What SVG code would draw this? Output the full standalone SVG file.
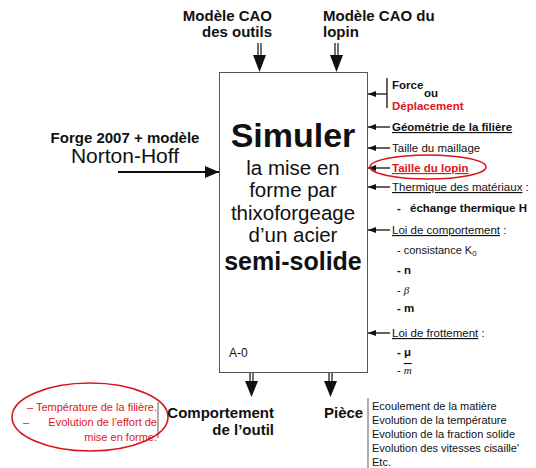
<svg xmlns="http://www.w3.org/2000/svg" width="536" height="468" viewBox="0 0 536 468">
  <style>
    text { font-family: "Liberation Sans", Arial, sans-serif; fill: #111; }
    .b { font-weight: bold; }
    .red { fill: #e0141c; }
    .box { fill: #fff; stroke: #555; stroke-width: 1; }
    .stem { stroke: #111; stroke-width: 1.2; fill: none; }
    .line { stroke: #111; stroke-width: 1.3; fill: none; }
    .thin { stroke: #333; stroke-width: 0.8; fill: none; }
    .oval { fill: none; stroke: #d8141c; stroke-width: 1.6; }
    .s11 { font-size: 11px; }
    .s115 { font-size: 11.5px; }
  </style>
  <defs>
    <marker id="small" viewBox="0 0 8 6" refX="8" refY="3" markerWidth="8" markerHeight="6" markerUnits="userSpaceOnUse" orient="auto">
      <path d="M0,0 L8,3 L0,6 Z" fill="#111"/>
    </marker>
    <marker id="big" viewBox="0 0 14 12" refX="14" refY="6" markerWidth="14" markerHeight="12" markerUnits="userSpaceOnUse" orient="auto">
      <path d="M0,0 L14,6 L0,12 Z" fill="#111"/>
    </marker>
  </defs>

  <!-- Activity box A-0 -->
  <g id="activity">
    <rect class="box" x="219.5" y="72.5" width="148" height="300"/>
    <text class="b" x="293" y="147" font-size="34" text-anchor="middle">Simuler</text>
    <text x="293" y="175" font-size="20.5" text-anchor="middle">la mise en</text>
    <text x="293" y="197" font-size="20.5" text-anchor="middle">forme par</text>
    <text x="293" y="220" font-size="20.5" text-anchor="middle">thixoforgeage</text>
    <text x="293" y="242" font-size="20.5" text-anchor="middle">d’un acier</text>
    <text class="b" x="293" y="270" font-size="25" text-anchor="middle">semi-solide</text>
    <text x="229" y="357" font-size="12">A-0</text>
  </g>

  <!-- Connectors -->
  <g id="connectors">
    <!-- top inputs (double-stem arrows) -->
    <line class="stem" x1="258" y1="43" x2="258" y2="56"/>
    <line class="stem" x1="261" y1="43" x2="261" y2="56"/>
    <path d="M253,55 L266,55 L259.5,72 Z" fill="#111"/>
    <line class="stem" x1="335" y1="43" x2="335" y2="56"/>
    <line class="stem" x1="338" y1="43" x2="338" y2="56"/>
    <path d="M330,55 L343,55 L336.5,72 Z" fill="#111"/>
    <!-- bottom outputs -->
    <line class="stem" x1="250" y1="373" x2="250" y2="382"/>
    <line class="stem" x1="253" y1="373" x2="253" y2="382"/>
    <path d="M245,381 L258,381 L251.5,397 Z" fill="#111"/>
    <line class="stem" x1="329" y1="373" x2="329" y2="382"/>
    <line class="stem" x1="332" y1="373" x2="332" y2="382"/>
    <path d="M324,381 L337,381 L330.5,397 Z" fill="#111"/>
    <!-- left input -->
    <line x1="118" y1="172" x2="219" y2="172" stroke="#111" stroke-width="2.2" marker-end="url(#big)"/>
    <!-- right-side controls -->
    <line class="line" x1="387" y1="78" x2="387" y2="108"/>
    <line class="line" x1="387" y1="94" x2="368" y2="94" marker-end="url(#small)"/>
    <line class="line" x1="390" y1="127" x2="368" y2="127" marker-end="url(#small)"/>
    <line class="line" x1="390" y1="148" x2="368" y2="148" marker-end="url(#small)"/>
    <line class="line" x1="390" y1="168" x2="368" y2="168" marker-end="url(#small)"/>
    <line class="line" x1="390" y1="187" x2="368" y2="187" marker-end="url(#small)"/>
    <line class="line" x1="390" y1="230" x2="368" y2="230" marker-end="url(#small)"/>
    <line class="line" x1="390" y1="333" x2="368" y2="333" marker-end="url(#small)"/>
  </g>

  <!-- Top inputs labels -->
  <g id="cao-outils">
    <text class="b" x="272" y="21" font-size="15" text-anchor="end">Modèle CAO</text>
    <text class="b" x="272" y="37" font-size="15" text-anchor="end">des outils</text>
  </g>
  <g id="cao-lopin">
    <text class="b" x="323" y="21" font-size="15">Modèle CAO du</text>
    <text class="b" x="323" y="37" font-size="15">lopin</text>
  </g>

  <!-- Left input label -->
  <g id="forge">
    <text class="b" x="125" y="143" font-size="15" text-anchor="middle">Forge 2007 + modèle</text>
    <text x="125" y="163" font-size="21" text-anchor="middle">Norton-Hoff</text>
  </g>

  <!-- Right-side controls labels -->
  <g id="force">
    <text class="b s115" x="392" y="89">Force</text>
    <text class="b s115" x="424" y="97">ou</text>
    <text class="b s115 red" x="392" y="110">Déplacement</text>
  </g>
  <g id="geometrie">
    <text class="b s115" x="392" y="131" text-decoration="underline">Géométrie de la filière</text>
  </g>
  <g id="maillage">
    <text class="s115" x="392" y="152">Taille du maillage</text>
  </g>
  <g id="lopin">
    <text class="b s115 red" x="392" y="172" text-decoration="underline">Taille du lopin</text>
    <ellipse class="oval" cx="428" cy="167" rx="58" ry="12"/>
  </g>
  <g id="thermique">
    <text class="s115" x="392" y="191"><tspan text-decoration="underline">Thermique des matériaux</tspan> :</text>
    <text class="b s115" x="397" y="212">-</text>
    <text class="b s115" x="410" y="212">échange thermique H</text>
  </g>
  <g id="comportement">
    <text class="s115" x="392" y="234"><tspan text-decoration="underline">Loi de comportement</tspan> :</text>
    <text class="s11" x="397" y="254">- consistance K<tspan font-size="8" dy="2">0</tspan></text>
    <text class="b s115" x="397" y="274">- n</text>
    <text class="s11" x="397" y="294">- <tspan font-family="Liberation Serif, serif" font-style="italic">β</tspan></text>
    <text class="b s115" x="397" y="312">- m</text>
  </g>
  <g id="frottement">
    <text class="s115" x="392" y="337"><tspan text-decoration="underline">Loi de frottement</tspan> :</text>
    <text class="b s115" x="397" y="356">- μ</text>
    <text class="s11" x="397" y="374">- <tspan font-family="Liberation Serif, serif" font-style="italic" text-decoration="overline">m</tspan></text>
  </g>

  <!-- Bottom outputs -->
  <g id="outil">
    <line class="thin" x1="158" y1="402" x2="158" y2="438"/>
    <text class="red s11" x="157" y="411" text-anchor="end">– Température de la filière.</text>
    <text class="red s11" x="23" y="426">–</text>
    <text class="red s11" x="157" y="426" text-anchor="end">Evolution de l’effort de</text>
    <text class="red s11" x="157" y="441" text-anchor="end">mise en forme.</text>
    <ellipse class="oval" cx="90" cy="417" rx="78" ry="34"/>
    <text class="b" x="274" y="418" font-size="15" text-anchor="end">Comportement</text>
    <text class="b" x="274" y="435" font-size="15" text-anchor="end">de l’outil</text>
  </g>
  <g id="piece">
    <text class="b" x="324" y="418" font-size="15">Pièce</text>
    <line class="thin" x1="368" y1="398" x2="368" y2="468"/>
    <text class="s11" x="372" y="410">Ecoulement de la matière</text>
    <text class="s11" x="372" y="424">Evolution de la température</text>
    <text class="s11" x="372" y="438">Evolution de la fraction solide</text>
    <text class="s11" x="372" y="452">Evolution des vitesses cisaille'</text>
    <text class="s11" x="372" y="466">Etc.</text>
  </g>
</svg>
